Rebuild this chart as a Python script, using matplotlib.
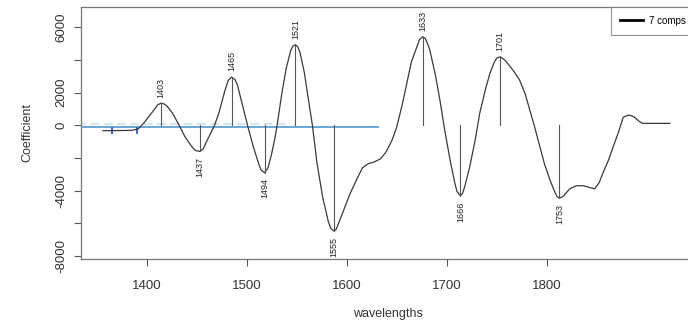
import matplotlib.pyplot as plt

plt.rcParams['font.family'] = ['Liberation Sans', 'DejaVu Sans']

# regression coefficients of the 7-component model (its own wavelength scale)
coef_wl = [1352, 1365, 1377, 1383, 1388, 1393, 1398, 1400, 1403, 1406,
           1408, 1413, 1419, 1424, 1430, 1433, 1437, 1440, 1443, 1450,
           1454, 1459, 1462, 1465, 1468, 1470, 1474, 1479, 1484, 1489,
           1491, 1494, 1497, 1500, 1503, 1505, 1509, 1513, 1517, 1519,
           1521, 1523, 1525, 1529, 1532, 1536, 1540, 1545, 1550, 1552,
           1555, 1557, 1559, 1564, 1569, 1575, 1580, 1585, 1590, 1596,
           1601, 1606, 1610, 1615, 1619, 1623, 1628, 1630, 1633, 1635,
           1636, 1639, 1644, 1648, 1652, 1657, 1661, 1663, 1666, 1668,
           1670, 1674, 1679, 1683, 1688, 1692, 1696, 1698, 1701, 1705,
           1710, 1714, 1718, 1723, 1727, 1732, 1736, 1740, 1745, 1749,
           1751, 1753, 1755, 1757, 1762, 1768, 1774, 1779, 1784, 1788,
           1791, 1796, 1800, 1805, 1809, 1813, 1816, 1819, 1823, 1826,
           1835, 1850]
coef_val = [-330, -320, -310, -220, 150, 600, 1050, 1250, 1360, 1300,
            1200, 750, 0, -700, -1300, -1530, -1600, -1450, -1000, 0,
            800, 2100, 2750, 2960, 2800, 2500, 1400, 0, -1300, -2400,
            -2750, -2900, -2600, -1800, -800, 0, 1900, 3500, 4600, 4870,
            4940, 4820, 4500, 3200, 1800, 0, -2300, -4400, -5900, -6300,
            -6480, -6350, -6000, -5100, -4200, -3300, -2600, -2350, -2250, -2050,
            -1600, -900, -120, 1300, 2600, 3900, 4850, 5250, 5430, 5330,
            5200, 4650, 3100, 1550, -200, -2150, -3500, -4050, -4320, -4150,
            -3700, -2600, -900, 750, 2200, 3200, 3900, 4120, 4200, 4000,
            3580, 3200, 2780, 1900, 930, -300, -1360, -2400, -3400, -4100,
            -4380, -4450, -4400, -4300, -3890, -3700, -3700, -3800, -3890, -3500,
            -2960, -2150, -1360, -400, 490, 620, 600, 490, 250, 120,
            120, 120]

# labelled extrema
peak_wl = [1403, 1437, 1465, 1494, 1521, 1555, 1633, 1666, 1701, 1753]
peak_val = [1360, -1600, 2960, -2900, 4940, -6480, 5430, -4320, 4200, -4450]

# blue reference lines (wavelength axis)
ref_wl = [1330, 1631]
ref_val = [-100, -100]
band_wl = [1330, 1543]
band_val = [60, 60]
bracket_wl = [1365, 1390]
bracket_lo = -450
bracket_hi = -150

fig = plt.figure(figsize=(6.88, 3.26), dpi=100)
ax = fig.add_axes([81 / 688, 1 - 259 / 326, 614 / 688, 252 / 326])

ax.plot(band_wl, band_val, color='#d3e6f5', lw=1.6, ls=(0, (4, 2)))
ax.plot(ref_wl, ref_val, color='#6aa6d6', lw=1.4)
for bw in bracket_wl:
    ax.plot([bw, bw], [bracket_lo, bracket_hi], color='#2a5cc0', lw=1.3)

ax.set_xlim(1334, 1948)
ax.set_ylim(-8190, 7250)
ax.set_xticks([1400, 1500, 1600, 1700, 1800])
ax.set_yticks([6000, 4000, 2000, 0, -2000, -4000, -6000, -8000])
ax.set_yticklabels(['6000', '', '2000', '0', '', '-4000', '', '-8000'],
                   rotation=90, va='center')
ax.tick_params(axis='x', length=5, width=0.8, color='#555', pad=10,
               labelsize=9.5, labelcolor='#333')
ax.tick_params(axis='y', length=5, width=0.8, color='#555', pad=5,
               labelsize=9.5, labelcolor='#333')
ax.set_xlabel('wavelengths', fontsize=9, color='#333', labelpad=12)
ax.set_ylabel('Coefficient', fontsize=9, color='#333', labelpad=16)
for sp in ax.spines.values():
    sp.set_color('#777')
    sp.set_linewidth(0.9)

# curve on its own (hidden) wavelength scale
ax2 = ax.twiny()
ax2.set_xlim(1332.7, 1872.1)
ax2.set_ylim(-8190, 7250)
ax2.set_xticks([])
for sp in ax2.spines.values():
    sp.set_visible(False)

line, = ax2.plot(coef_wl, coef_val, color='#3a3a3a', lw=0.9)
for w, v in zip(peak_wl, peak_val):
    ax2.plot([w, w], [0, v], color='#555', lw=0.8)
    if v > 0:
        ax2.annotate(str(w), (w, v), xytext=(0, 4), textcoords='offset points',
                     rotation=90, ha='center', va='bottom', fontsize=6.5,
                     color='#222')
    else:
        ax2.annotate(str(w), (w, v), xytext=(0, -4), textcoords='offset points',
                     rotation=90, ha='center', va='top', fontsize=6.5,
                     color='#222')

leg = ax2.legend([line], ['7 comps'], loc='upper right', fontsize=7,
                 frameon=True, fancybox=False, borderaxespad=0,
                 handlelength=2.3, handletextpad=0.7, borderpad=0.9)
leg.get_frame().set_edgecolor('#777')
leg.get_frame().set_linewidth(0.8)
leg.get_lines()[0].set_linewidth(2)
leg.get_lines()[0].set_color('black')

fig.savefig('out.png', dpi=100)
